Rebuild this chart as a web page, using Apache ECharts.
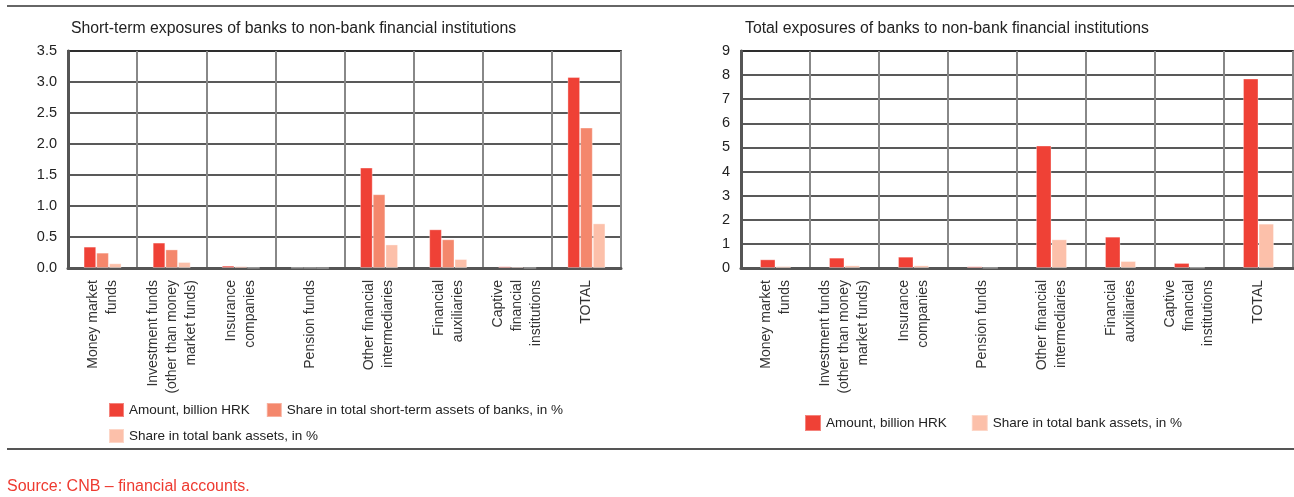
<!DOCTYPE html>
<html>
<head>
<meta charset="utf-8">
<script src="https://cdn.jsdelivr.net/npm/echarts@6/dist/echarts.min.js"></script>
<style>
html,body{margin:0;padding:0;background:#fff;}
#chart{width:1294px;height:497px;}
</style>
</head>
<body>
<div id="chart"></div>
<script>
const categories = [
  "Money market\nfunds",
  "Investment funds\n(other than money\nmarket funds)",
  "Insurance\ncompanies",
  "Pension funds",
  "Other financial\nintermediaries",
  "Financial\nauxiliaries",
  "Captive\nfinancial\ninstitutions",
  "TOTAL"
];
// Left chart: short-term exposures
const shortAmount = [0.345, 0.41, 0.038, 0.006, 1.62, 0.624, 0.027, 3.08];
const shortShareShortTerm = [0.248, 0.30, 0.027, 0.004, 1.19, 0.463, 0.02, 2.265];
const shortShareTotal = [0.076, 0.097, 0.005, 0.001, 0.38, 0.145, 0.003, 0.72];
// Right chart: total exposures
const totalAmount = [0.36, 0.43, 0.47, 0.07, 5.08, 1.3, 0.21, 7.86];
const totalShareTotal = [0.08, 0.11, 0.11, 0.01, 1.19, 0.29, 0.02, 1.84];

const leftTicks = { min: 0, max: 3.5, interval: 0.5 };
const rightTicks = { min: 0, max: 9, interval: 1 };

const names = {
  amount: "Amount, billion HRK",
  shareShort: "Share in total short-term assets of banks, in %",
  shareTotal: "Share in total bank assets, in %"
};
const titles = [
  "Short-term exposures of banks to non-bank financial institutions",
  "Total exposures of banks to non-bank financial institutions"
];
const sourceText = "Source: CNB \u2013 financial accounts.";

const FONT = "'Liberation Sans Narrow', 'Arial Narrow', 'Liberation Sans', sans-serif";
const C_RED = '#ef4136', C_SALMON = '#f4876c', C_PEACH = '#fcc0aa';

const chart = echarts.init(document.getElementById('chart'), null, {renderer: 'canvas'});

function xAxisCfg(gi) {
  return {
    type: 'category', gridIndex: gi, data: categories,
    axisLine: {show: true, lineStyle: {color: '#555', width: 3}},
    axisTick: {show: false},
    splitLine: {show: true, interval: 0, lineStyle: {color: '#888', width: 2}},
    axisLabel: {
      interval: 0, rotate: 90, margin: 12, color: '#333',
      fontFamily: FONT, fontSize: 14, lineHeight: 19
    }
  };
}
function yAxisCfg(gi, t, dec) {
  return {
    type: 'value', gridIndex: gi, min: t.min, max: t.max, interval: t.interval,
    axisLine: {show: true, lineStyle: {color: '#555', width: 3}},
    axisTick: {show: false},
    splitLine: {show: true, lineStyle: {color: '#222', width: 1.5}},
    axisLabel: {
      margin: 11, color: '#222', fontFamily: FONT, fontSize: 14.5,
      formatter: v => v.toFixed(dec)
    }
  };
}
function bar(name, data, color, gi) {
  return {
    name, type: 'bar', data, xAxisIndex: gi, yAxisIndex: gi,
    barGap: '0%', barCategoryGap: gi === 0 ? '45%' : '55%',
    itemStyle: {color, borderColor: 'rgba(255,255,255,0.35)', borderWidth: 1},
    silent: true
  };
}
const legendText = {color: '#222', fontFamily: FONT, fontSize: 13.5};

chart.setOption({
  animation: false,
  title: [
    {text: titles[0], left: 66, top: 16, textStyle: {fontFamily: FONT, fontSize: 15.8, fontWeight: 'normal', color: '#222'}},
    {text: titles[1], left: 740, top: 16, textStyle: {fontFamily: FONT, fontSize: 15.8, fontWeight: 'normal', color: '#222'}}
  ],
  grid: [
    {left: 68, top: 51, width: 553, height: 217, show: true, borderColor: '#555', borderWidth: 2, containLabel: false},
    {left: 741, top: 51, width: 552, height: 217, show: true, borderColor: '#555', borderWidth: 2, containLabel: false}
  ],
  xAxis: [xAxisCfg(0), xAxisCfg(1)],
  yAxis: [yAxisCfg(0, leftTicks, 1), yAxisCfg(1, rightTicks, 0)],
  legend: [
    {data: [names.amount, names.shareShort], left: 103, top: 397, itemWidth: 15, itemHeight: 14, itemGap: 16,
     icon: 'rect', textStyle: legendText, selectedMode: false},
    {data: [names.shareTotal], left: 103, top: 423, itemWidth: 15, itemHeight: 14,
     icon: 'rect', textStyle: legendText, selectedMode: false},
    {data: [names.amount, names.shareTotal], left: 799, top: 409, itemWidth: 16, itemHeight: 16, itemGap: 24,
     icon: 'rect', textStyle: legendText, selectedMode: false}
  ],
  series: [
    bar(names.amount, shortAmount, C_RED, 0),
    bar(names.shareShort, shortShareShortTerm, C_SALMON, 0),
    bar(names.shareTotal, shortShareTotal, C_PEACH, 0),
    bar(names.amount, totalAmount, C_RED, 1),
    bar(names.shareTotal, totalShareTotal, C_PEACH, 1)
  ],
  graphic: [
    {type: 'line', shape: {x1: 7, y1: 6, x2: 1294, y2: 6}, style: {stroke: '#666', lineWidth: 2}, silent: true},
    {type: 'line', shape: {x1: 7, y1: 449, x2: 1294, y2: 449}, style: {stroke: '#555', lineWidth: 2}, silent: true},
    {type: 'text', left: 7, top: 479, style: {text: sourceText, fill: '#ee3a30', font: "16px " + FONT}, silent: true}
  ]
});
</script>
</body>
</html>
